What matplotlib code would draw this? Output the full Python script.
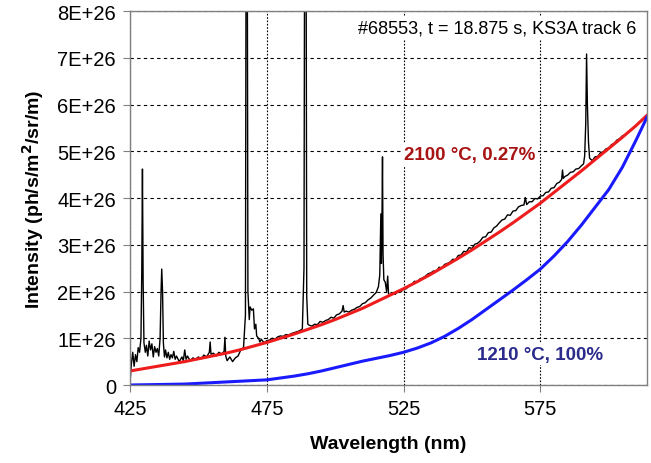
import numpy as np
import matplotlib.pyplot as plt

plt.rcParams['font.family'] = ['Liberation Sans', 'DejaVu Sans']

# Grey-body fits (intensity in units of 1E+26 ph/s/m2/sr/m)
fit_wl = [425, 430, 435, 440, 445, 450, 455, 460, 465, 470,
          475, 480, 485, 490, 495, 500, 505, 510, 515, 520,
          525, 530, 535, 540, 545, 550, 555, 560, 565, 570,
          575, 580, 585, 590, 595, 600, 605, 610, 614]
fit_2100 = [0.30, 0.35, 0.40, 0.45, 0.50, 0.56, 0.62, 0.68, 0.75, 0.83,
            0.91, 1.00, 1.09, 1.19, 1.29, 1.40, 1.52, 1.64, 1.78, 1.92,
            2.06, 2.21, 2.37, 2.54, 2.71, 2.89, 3.08, 3.27, 3.47, 3.68,
            3.89, 4.12, 4.35, 4.58, 4.82, 5.06, 5.30, 5.55, 5.77]
fit_1210 = [0.00, 0.005, 0.01, 0.015, 0.02, 0.035, 0.05, 0.065, 0.08, 0.095,
            0.11, 0.15, 0.19, 0.24, 0.30, 0.37, 0.44, 0.51, 0.57, 0.63,
            0.70, 0.79, 0.90, 1.04, 1.21, 1.40, 1.61, 1.82, 2.03, 2.25,
            2.48, 2.76, 3.07, 3.42, 3.80, 4.18, 4.66, 5.24, 5.73]

# Measured spectrum (values above 8 run off the top of the axes)
spec_wl = [425.0, 425.5, 426.0, 426.5, 427.0, 427.5, 428.0, 428.5, 429.0, 429.3,
           429.55, 429.8, 430.1, 430.6, 431.0, 431.5, 432.0, 432.5, 433.0, 433.5,
           434.0, 434.5, 435.0, 435.5, 436.0, 436.35, 436.6, 436.9, 437.2, 437.6,
           438.0, 438.5, 439.0, 439.5, 440.0, 440.5, 441.0, 441.5, 442.0, 443.0,
           444.0, 444.5, 445.0, 445.5, 446.0, 447.0, 448.0, 449.0, 450.0, 451.0,
           452.0, 453.0, 454.0, 454.3, 454.6, 455.5, 456.5, 457.5, 458.5, 459.4,
           459.7, 460.0, 460.5, 461.5, 462.5, 463.5, 464.5, 465.5, 466.5, 467.2,
           467.5, 467.8, 468.1, 468.6, 468.9, 469.5, 470.1, 470.5, 471.0, 471.3,
           472.0, 472.5, 473.0, 474.0, 475.0, 476.0, 477.0, 478.0, 479.0, 480.0,
           481.0, 482.0, 483.0, 484.0, 485.0, 486.0, 487.0, 488.0, 488.6, 488.9,
           489.3, 489.6, 490.0, 490.5, 491.5, 492.5, 493.5, 494.5, 495.5, 496.5,
           497.5, 498.5, 499.5, 500.5, 501.5, 502.5, 502.9, 503.3, 504.0, 505.0,
           506.0, 507.0, 508.0, 509.0, 510.0, 511.0, 512.0, 513.0, 514.0, 515.0,
           515.8, 516.3, 516.7, 516.9, 517.1, 517.3, 517.5, 517.8, 518.3, 518.8,
           519.2, 519.5, 520.0, 521.0, 522.0, 523.0, 524.0, 525.0, 526.0, 527.0,
           528.0, 529.0, 530.0, 531.0, 532.0, 533.0, 534.0, 535.0, 536.0, 537.0,
           538.0, 539.0, 540.0, 541.0, 542.0, 543.0, 544.0, 545.0, 546.0, 547.0,
           548.0, 549.0, 550.0, 551.0, 552.0, 553.0, 554.0, 555.0, 556.0, 557.0,
           558.0, 559.0, 560.0, 561.0, 562.0, 563.0, 564.0, 565.0, 566.0, 567.0,
           568.0, 569.0, 569.5, 570.0, 571.0, 572.0, 573.0, 574.0, 575.0, 576.0,
           577.0, 578.0, 579.0, 580.0, 581.0, 582.0, 582.8, 583.1, 583.4, 584.0,
           585.0, 586.0, 587.0, 588.0, 589.0, 590.0, 590.8, 591.2, 591.6, 591.9,
           592.2, 592.6, 593.0, 594.0, 595.0, 596.0, 597.0, 598.0, 599.0, 600.0,
           601.0, 602.0, 603.0, 604.0, 605.0, 606.0, 607.0, 608.0, 609.0, 610.0,
           611.0, 612.0, 613.0, 614.0]
spec_val = [0.05, 0.45, 0.70, 0.40, 0.65, 0.50, 0.80, 0.70, 1.00, 2.40,
            4.62, 2.20, 0.90, 0.70, 0.85, 0.62, 0.94, 0.75, 0.88, 0.60,
            0.82, 0.70, 0.78, 0.62, 1.00, 2.00, 2.48, 2.00, 0.90, 0.60,
            0.75, 0.58, 0.70, 0.55, 0.65, 0.58, 0.72, 0.55, 0.62, 0.50,
            0.60, 0.52, 0.75, 0.55, 0.62, 0.52, 0.58, 0.55, 0.60, 0.56,
            0.64, 0.60, 0.70, 0.92, 0.66, 0.68, 0.62, 0.70, 0.66, 0.72,
            1.02, 0.62, 0.52, 0.60, 0.50, 0.58, 0.62, 0.75, 0.80, 1.50,
            12.0, 12.0, 2.00, 1.40, 1.67, 1.60, 1.63, 1.20, 1.30, 1.05,
            1.00, 0.92, 0.98, 0.90, 0.95, 0.96, 1.00, 0.98, 1.03, 1.05,
            1.04, 1.08, 1.07, 1.10, 1.12, 1.14, 1.16, 1.20, 2.50, 12.0,
            12.0, 1.90, 1.30, 1.28, 1.26, 1.30, 1.29, 1.36, 1.34, 1.38,
            1.40, 1.45, 1.43, 1.50, 1.52, 1.58, 1.70, 1.56, 1.58, 1.56,
            1.60, 1.62, 1.66, 1.68, 1.74, 1.76, 1.82, 1.86, 1.92, 1.98,
            2.10, 2.35, 3.66, 2.60, 3.50, 4.88, 2.80, 2.25, 2.20, 2.00,
            2.33, 1.95, 1.93, 1.97, 1.94, 2.01, 1.99, 2.05, 2.06, 2.13,
            2.15, 2.22, 2.20, 2.27, 2.29, 2.33, 2.38, 2.40, 2.44, 2.43,
            2.52, 2.50, 2.58, 2.60, 2.63, 2.69, 2.68, 2.77, 2.78, 2.86,
            2.85, 2.94, 2.92, 3.01, 3.03, 3.08, 3.16, 3.17, 3.26, 3.27,
            3.36, 3.40, 3.47, 3.53, 3.55, 3.64, 3.63, 3.72, 3.73, 3.81,
            3.84, 3.85, 4.01, 3.86, 3.92, 3.92, 3.99, 3.98, 4.04, 4.05,
            4.12, 4.13, 4.21, 4.22, 4.31, 4.34, 4.40, 4.60, 4.42, 4.46,
            4.49, 4.55, 4.56, 4.62, 4.63, 4.69, 4.73, 4.90, 5.60, 7.08,
            6.00, 5.20, 4.85, 4.80, 4.88, 4.89, 4.97, 4.99, 5.05, 5.07,
            5.14, 5.17, 5.24, 5.27, 5.33, 5.35, 5.41, 5.44, 5.49, 5.54,
            5.61, 5.65, 5.72, 5.77]

x_ticks = [425, 475, 525, 575]
y_ticks = [0, 1, 2, 3, 4, 5, 6, 7, 8]
y_labels = ['0'] + ['%dE+26' % v for v in y_ticks[1:]]

scale = 1e26

fig = plt.figure(figsize=(6.51, 4.64), dpi=100)
ax = fig.add_axes([0.1997, 0.1681, 0.7942, 0.806])

ax.plot(spec_wl, np.array(spec_val) * scale, color='black', lw=1.0)
ax.plot(fit_wl, np.array(fit_2100) * scale, color='#ee1c1c', lw=2.2)
ax.plot(fit_wl, np.array(fit_1210) * scale, color='#1a1aff', lw=2.2)

ax.set_xlim(425, 614)
ax.set_ylim(0, 8 * scale)
ax.set_xticks(x_ticks)
ax.set_yticks([v * scale for v in y_ticks])
ax.set_yticklabels(y_labels)

ax.yaxis.grid(True, color='black', ls=(0, (3, 3)), lw=0.8)
ax.xaxis.grid(True, color='black', ls=(0, (1.5, 1.5)), lw=0.8)
ax.set_axisbelow(True)

for s in ax.spines.values():
    s.set_color('#808080')
    s.set_linewidth(1.0)
ax.tick_params(axis='both', labelsize=14.5, length=5, color='#808080', pad=5)

ax.set_xlabel('Wavelength (nm)', fontsize=14, fontweight='bold', labelpad=12)
ax.set_ylabel('Intensity (ph/s/m$^{\\mathbf{2}}$/sr/m)', fontsize=14,
              fontweight='bold', labelpad=8)

box = dict(facecolor='white', edgecolor='none', pad=2)
ax.text(0.98, 0.955, '#68553, t = 18.875 s, KS3A track 6', transform=ax.transAxes,
        ha='right', va='center', fontsize=13, bbox=box)
ax.text(549, 4.93 * scale, '2100 °C, 0.27%', color='#a81414', fontsize=13.5,
        fontweight='bold', ha='center', va='center', bbox=box)
ax.text(575, 0.66 * scale, '1210 °C, 100%', color='#2b2b8c', fontsize=13.5,
        fontweight='bold', ha='center', va='center', bbox=box)

fig.savefig('out.png', dpi=100)
